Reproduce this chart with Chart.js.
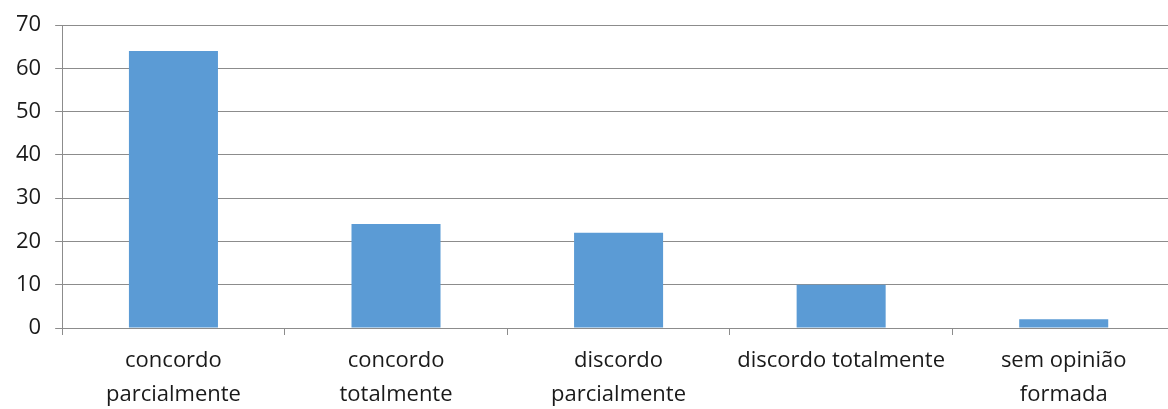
<!DOCTYPE html>
<html>
<head>
<meta charset="utf-8">
<script src="https://cdn.jsdelivr.net/npm/chart.js@4"></script>
<style>
  html, body { margin: 0; padding: 0; background: #fff; overflow: hidden; }
</style>
</head>
<body>
<canvas id="grafica" width="1180" height="409"></canvas>
<script>
const categorias = [
    ['concordo', 'parcialmente'],
    ['concordo', 'totalmente'],
    ['discordo', 'parcialmente'],
    'discordo totalmente',
    ['sem opinião', 'formada']
]
const valores = [64, 24, 22, 10, 2]

const ctx = document.getElementById('grafica')

const grafBarras = new Chart(ctx, {
    type: 'bar',
    data: {
        labels: categorias,
        datasets: [
            {
                label: '',
                data: valores,
                backgroundColor: '#5B9BD5',
                barPercentage: 0.4,
                categoryPercentage: 1
            }
        ]
    },
    options: {
        responsive: false,
        animation: false,
        layout: { padding: { top: 0, right: 5, left: 2, bottom: 0 } },
        plugins: {
            legend: { display: false },
            tooltip: { enabled: false }
        },
        scales: {
            y: {
                min: 0,
                max: 70,
                ticks: {
                    stepSize: 10,
                    color: '#1a1a1a',
                    padding: 14,
                    font: { family: 'Open Sans', size: 22, lineHeight: 1.0 }
                },
                grid: {
                    color: '#8c8c8c',
                    tickLength: 7,
                    lineWidth: 1
                },
                border: { color: '#8c8c8c' }
            },
            x: {
                afterFit: (scale) => { scale.height = 81 },
                ticks: {
                    color: '#1a1a1a',
                    padding: 9,
                    maxRotation: 0,
                    font: { family: 'Open Sans', size: 22, lineHeight: 1.55 }
                },
                grid: {
                    offset: true,
                    drawOnChartArea: false,
                    color: '#8c8c8c',
                    tickLength: 7
                },
                border: { color: '#8c8c8c' }
            }
        }
    }
})
</script>
</body>
</html>
